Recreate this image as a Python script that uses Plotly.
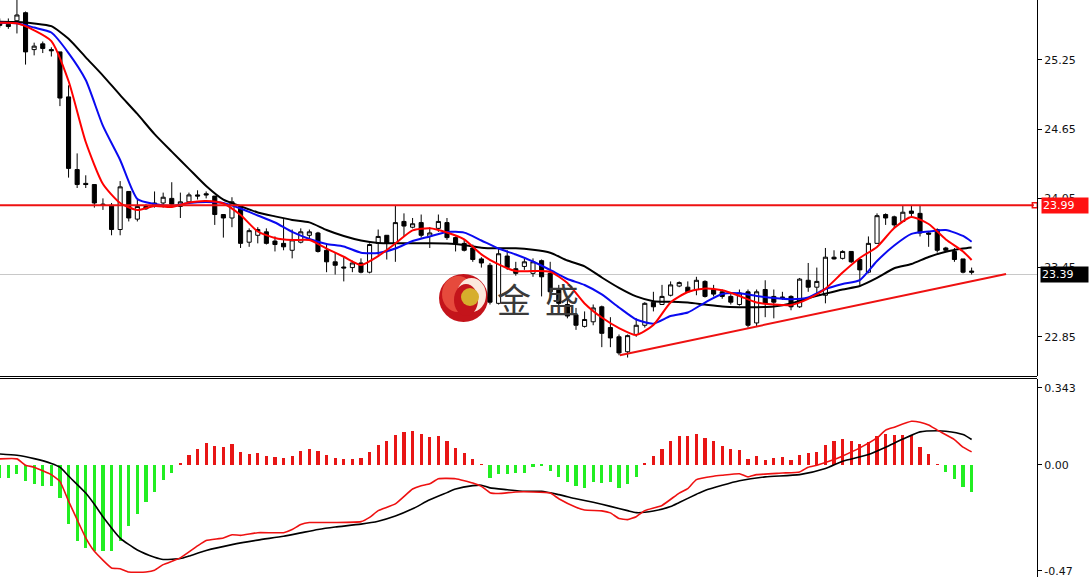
import plotly.graph_objects as go

# ---------------- price data (one candle per bar index) ----------------
idx = list(range(114))
opens = [25.58,25.56,25.59,25.66,25.34,25.39,25.34,25.32,24.93,24.30,
         24.18,24.17,24.00,23.99,23.78,24.11,23.87,23.98,24.01,24.01,
         24.05,23.98,24.02,24.08,24.09,24.07,23.91,23.88,23.98,23.67,
         23.73,23.76,23.68,23.66,23.60,23.67,23.73,23.75,23.60,23.50,
         23.455,23.45,23.49,23.41,23.66,23.73,23.66,23.85,23.80,23.84,
         23.72,23.79,23.84,23.71,23.66,23.62,23.525,23.47,23.14,23.55,
         23.44,23.46,23.40,23.51,23.40,23.26,23.13,23.04,22.94,22.98,
         23.11,22.93,22.85,22.72,22.87,22.95,23.15,23.13,23.21,23.29,
         23.28,23.26,23.33,23.26,23.24,23.20,23.13,23.24,22.97,23.26,
         23.20,23.195,23.20,23.11,23.34,23.28,23.21,23.54,23.53,23.59,
         23.52,23.41,23.66,23.91,23.89,23.85,23.94,23.92,23.75,23.78,
         23.62,23.59,23.525,23.42]
closes = [25.55,25.54,25.64,25.32,25.37,25.35,25.33,24.92,24.31,24.17,
          24.17,24.01,23.99,23.78,24.15,23.88,23.98,23.96,24.00,24.06,
          24.00,24.02,24.08,24.07,24.08,23.91,23.88,24.02,23.66,23.77,
          23.78,23.66,23.65,23.63,23.69,23.76,23.76,23.59,23.50,23.47,
          23.447,23.49,23.41,23.65,23.72,23.66,23.84,23.81,23.83,23.73,
          23.75,23.85,23.71,23.66,23.60,23.52,23.49,23.15,23.57,23.45,
          23.40,23.50,23.50,23.37,23.24,23.14,23.03,22.95,23.00,23.10,
          22.88,22.84,22.71,22.86,22.95,23.14,23.11,23.20,23.30,23.32,
          23.24,23.34,23.20,23.22,23.20,23.15,23.23,22.95,23.24,23.14,
          23.15,23.19,23.11,23.35,23.28,23.33,23.54,23.525,23.59,23.50,
          23.43,23.66,23.90,23.88,23.82,23.93,23.92,23.75,23.74,23.60,
          23.60,23.52,23.41,23.41]
highs = [25.61,25.61,25.77,25.67,25.40,25.41,25.36,25.32,25.03,24.44,
         24.25,24.17,24.05,24.01,24.20,24.11,24.04,24.00,24.11,24.10,
         24.19,24.10,24.10,24.12,24.11,24.07,23.91,24.06,23.99,23.79,
         23.80,23.79,23.72,23.87,23.78,23.79,23.78,23.76,23.66,23.58,
         23.54,23.51,23.53,23.66,23.78,23.73,23.99,23.92,23.88,23.91,
         23.80,23.91,23.88,23.72,23.69,23.65,23.54,23.49,23.62,23.60,
         23.50,23.53,23.53,23.52,23.50,23.30,23.17,23.10,23.07,23.13,
         23.12,23.02,22.87,22.87,23.01,23.15,23.24,23.30,23.33,23.33,
         23.33,23.37,23.34,23.30,23.26,23.22,23.26,23.26,23.26,23.34,
         23.26,23.24,23.21,23.36,23.49,23.45,23.62,23.60,23.60,23.59,
         23.53,23.72,23.92,23.92,23.90,23.99,23.99,23.99,23.76,23.79,
         23.63,23.62,23.525,23.45]
lows = [25.53,25.52,25.48,25.21,25.29,25.31,25.28,24.85,24.23,24.14,
        24.14,23.97,23.95,23.73,23.73,23.85,23.85,23.95,23.97,23.97,
        23.97,23.88,24.01,24.04,24.05,23.82,23.71,23.80,23.62,23.63,
        23.66,23.65,23.59,23.60,23.53,23.66,23.69,23.58,23.41,23.39,
        23.33,23.41,23.40,23.40,23.56,23.52,23.50,23.72,23.79,23.71,
        23.62,23.76,23.69,23.59,23.59,23.50,23.45,23.13,23.13,23.43,
        23.38,23.43,23.37,23.20,23.20,23.08,23.01,22.91,22.93,22.95,
        22.76,22.76,22.69,22.67,22.85,22.93,23.07,23.13,23.20,23.28,
        23.23,23.21,23.19,23.20,23.18,23.13,23.12,22.93,22.94,23.02,
        23.01,23.17,23.08,23.10,23.24,23.21,23.14,23.52,23.52,23.49,
        23.30,23.40,23.66,23.82,23.79,23.85,23.89,23.72,23.63,23.58,
        23.59,23.50,23.40,23.39]

# moving averages read at every second bar
ma_idx = list(range(0, 113, 2)) + [113]
ma_red = [25.573,25.568,25.507,25.414,25.068,24.539,24.175,24.010,23.949,23.984,
          23.975,24.014,24.027,24.006,23.906,23.763,23.707,23.689,23.689,23.615,
          23.544,23.473,23.550,23.659,23.772,23.791,23.754,23.694,23.564,23.477,
          23.420,23.420,23.414,23.316,23.139,23.017,22.926,22.866,22.952,23.147,
          23.238,23.269,23.253,23.204,23.147,23.130,23.126,23.178,23.267,23.407,
          23.533,23.629,23.793,23.889,23.828,23.694,23.590,23.516]
ma_blue = [25.573,25.568,25.531,25.488,25.310,25.076,24.678,24.383,24.045,24.001,
           23.984,24.010,24.019,24.010,23.962,23.902,23.841,23.759,23.698,23.655,
           23.633,23.579,23.577,23.615,23.681,23.720,23.759,23.753,23.685,23.615,
           23.563,23.503,23.429,23.351,23.299,23.217,23.104,23.000,22.964,23.030,
           23.061,23.147,23.221,23.227,23.204,23.186,23.176,23.191,23.264,23.308,
           23.342,23.507,23.641,23.742,23.763,23.776,23.724,23.674]
ma_black = [25.582,25.579,25.567,25.543,25.434,25.273,25.115,24.945,24.782,24.607,
            24.455,24.306,24.157,24.039,23.982,23.928,23.894,23.863,23.842,23.776,
            23.724,23.685,23.663,23.661,23.661,23.661,23.659,23.646,23.623,23.617,
            23.617,23.604,23.579,23.511,23.461,23.364,23.274,23.200,23.159,23.154,
            23.147,23.129,23.112,23.106,23.106,23.113,23.139,23.186,23.224,23.260,
            23.290,23.360,23.444,23.481,23.542,23.588,23.615,23.624]

resistance = 23.99
last_price = 23.39
trend_idx = [72.1, 117.0]
trend_val = [22.69, 23.394]

price_ticks = [25.25, 24.65, 24.05, 23.45, 22.85]

# ---------------- MACD data ----------------
hist = [-0.059,-0.059,-0.041,-0.072,-0.083,-0.092,-0.092,-0.147,-0.264,-0.339,
        -0.370,-0.381,-0.381,-0.381,-0.339,-0.270,-0.218,-0.166,-0.119,-0.065,
        -0.034,0.006,0.044,0.071,0.096,0.086,0.079,0.092,0.059,0.050,
        0.053,0.040,0.036,0.031,0.040,0.064,0.071,0.064,0.044,0.031,
        0.027,0.027,0.029,0.059,0.090,0.105,0.133,0.145,0.151,0.138,
        0.123,0.128,0.107,0.077,0.053,0.027,0.003,-0.059,-0.039,-0.039,
        -0.034,-0.034,-0.008,-0.004,-0.028,-0.052,-0.077,-0.095,-0.102,-0.077,
        -0.081,-0.077,-0.102,-0.083,-0.052,0.006,0.040,0.071,0.105,0.128,
        0.128,0.138,0.120,0.105,0.086,0.071,0.067,0.027,0.040,0.022,
        0.031,0.036,0.022,0.044,0.053,0.059,0.090,0.105,0.114,0.105,
        0.092,0.101,0.128,0.138,0.133,0.133,0.133,0.081,0.049,0.004,
        -0.032,-0.064,-0.096,-0.121]
dif_idx = [0,2,3,4,6,7,8,9,10,11,13,14,15,17,18,19,21,23,24,26,27,28,30,33,34,35,36,39,42,43,
           44,46,48,49,50,51,53,55,56,57,58,60,62,64,65,67,68,70,71,72,73,74,75,77,79,80,81,83,84,86,
           87,88,91,93,94,95,97,98,100,102,103,104,106,107,108,109,111,112,113]
dif_val = [0.027,0.027,-0.001,-0.010,-0.043,-0.073,-0.161,-0.243,-0.324,-0.384,
           -0.458,-0.461,-0.476,-0.476,-0.468,-0.443,-0.413,-0.360,-0.336,-0.325,
           -0.310,-0.313,-0.301,-0.301,-0.287,-0.265,-0.256,-0.256,-0.252,-0.233,
           -0.203,-0.173,-0.107,-0.092,-0.084,-0.061,-0.061,-0.080,-0.095,-0.123,
           -0.127,-0.120,-0.120,-0.125,-0.150,-0.188,-0.200,-0.204,-0.213,-0.238,
           -0.243,-0.230,-0.203,-0.180,-0.125,-0.105,-0.065,-0.050,-0.046,-0.039,
           -0.053,-0.043,-0.036,-0.031,-0.010,-0.001,0.024,0.040,0.076,0.120,
           0.155,0.168,0.194,0.190,0.178,0.155,0.113,0.079,0.058]
dea_idx = [0,2,4,6,7,8,10,11,12,14,16,18,19,21,22,24,27,30,33,35,
           37,39,42,44,46,48,50,52,53,55,56,57,59,61,63,65,67,69,71,73,
           74,76,78,79,81,82,84,86,89,93,96,98,101,103,105,107,109,110,112,113]
dea_val = [0.049,0.043,0.028,0.007,-0.010,-0.049,-0.125,-0.175,-0.230,-0.325,
           -0.378,-0.410,-0.420,-0.416,-0.405,-0.380,-0.354,-0.334,-0.317,-0.302,
           -0.287,-0.276,-0.263,-0.250,-0.227,-0.195,-0.155,-0.123,-0.107,-0.092,
           -0.090,-0.102,-0.110,-0.117,-0.117,-0.132,-0.150,-0.166,-0.184,-0.203,
           -0.212,-0.205,-0.185,-0.167,-0.130,-0.113,-0.090,-0.070,-0.053,-0.043,
           -0.016,0.016,0.046,0.079,0.115,0.147,0.152,0.150,0.135,0.113]
macd_ticks = [0.343, 0.0, -0.47]
macd_ticktext = ["0.343", "0.00", "-0.47"]

# ---------------- figure ----------------
W, H = 1089, 577
PLOT_W = 1037
TOP_BOTTOM_PX = 376
BOT_TOP_PX = 379
XR = [0.03, 120.6]
FONT = "DejaVu Sans"

fig = go.Figure()

fig.add_trace(go.Candlestick(
    x=idx, open=opens, high=highs, low=lows, close=closes,
    increasing=dict(line=dict(color="black", width=1), fillcolor="white"),
    decreasing=dict(line=dict(color="black", width=1), fillcolor="black"),
    whiskerwidth=0, xaxis="x", yaxis="y", hoverinfo="skip", showlegend=False))

for vals, col in [(ma_black, "#000000"), (ma_blue, "#0a0af0"), (ma_red, "#ff0000")]:
    fig.add_trace(go.Scatter(x=ma_idx, y=vals, mode="lines",
                             line=dict(color=col, width=2, shape="spline", smoothing=0.6),
                             xaxis="x", yaxis="y", showlegend=False, hoverinfo="skip"))

fig.add_trace(go.Scatter(x=trend_idx, y=trend_val, mode="lines",
                         line=dict(color="#ee1111", width=2),
                         xaxis="x", yaxis="y", showlegend=False, hoverinfo="skip"))

fig.add_trace(go.Scatter(x=[XR[1] - 0.25], y=[resistance], mode="markers",
                         marker=dict(symbol="square-open", size=5, color="#ee1111",
                                     line=dict(width=1.5, color="#ee1111")),
                         xaxis="x", yaxis="y", showlegend=False, hoverinfo="skip",
                         cliponaxis=False))

# MACD panel
fig.add_trace(go.Bar(x=idx, y=hist, width=0.36,
                     marker=dict(color=["#e81515" if v >= 0 else "#22ee22" for v in hist],
                                 line=dict(width=0)),
                     xaxis="x2", yaxis="y2", showlegend=False, hoverinfo="skip"))
fig.add_trace(go.Scatter(x=dea_idx, y=dea_val, mode="lines",
                         line=dict(color="#000000", width=1.6, shape="spline", smoothing=0.6),
                         xaxis="x2", yaxis="y2", showlegend=False, hoverinfo="skip"))
fig.add_trace(go.Scatter(x=dif_idx, y=dif_val, mode="lines",
                         line=dict(color="#ee1111", width=1.6, shape="spline", smoothing=0.4),
                         xaxis="x2", yaxis="y2", showlegend=False, hoverinfo="skip"))

top_dom = [1 - TOP_BOTTOM_PX / H, 1]
bot_dom = [0, 1 - BOT_TOP_PX / H]
y_top = 25.77
y_bot = 22.51

axis_common = dict(side="right", showgrid=False, zeroline=False, showline=True,
                   linecolor="black", linewidth=1, ticks="outside", ticklen=4,
                   tickcolor="black", tickwidth=1, ticklabeloverflow="allow",
                   tickfont=dict(family=FONT, size=11, color="#111111"))

fig.update_layout(
    width=W, height=H, autosize=False,
    margin=dict(l=0, r=W - PLOT_W, t=0, b=0),
    paper_bgcolor="white", plot_bgcolor="white",
    boxgap=0.32, bargap=0,
    xaxis=dict(domain=[0, 1], range=XR, anchor="y", visible=False,
               rangeslider=dict(visible=False), fixedrange=True),
    xaxis2=dict(domain=[0, 1], range=XR, anchor="y2", visible=False, fixedrange=True),
    yaxis=dict(domain=top_dom, range=[y_bot, y_top], anchor="x",
               tickvals=price_ticks, ticktext=[f"{v:.2f}" for v in price_ticks],
               **axis_common),
    yaxis2=dict(domain=bot_dom, range=[-0.498, 0.382], anchor="x2",
                tickvals=macd_ticks, ticktext=macd_ticktext, **axis_common),
)

shapes = []
shapes.append(dict(type="line", xref="paper", yref="y", x0=0, x1=0.997,
                   y0=resistance, y1=resistance, line=dict(color="#ee1111", width=2)))
shapes.append(dict(type="line", xref="paper", yref="y", x0=0, x1=1,
                   y0=last_price, y1=last_price, line=dict(color="#c8c8c8", width=1),
                   layer="below"))
for py in (376.5, 378.5):
    shapes.append(dict(type="line", xref="paper", yref="paper", x0=0, x1=1,
                       y0=1 - py / H, y1=1 - py / H, line=dict(color="black", width=1)))

def px_rect(x0, y0, x1, y1):
    return dict(x0=x0 / PLOT_W, x1=x1 / PLOT_W, y0=1 - y1 / H, y1=1 - y0 / H)

shapes.append(dict(type="circle", xref="paper", yref="paper", layer="below",
                   fillcolor="#c4141b", line=dict(width=0), **px_rect(439, 274, 488, 322)))
shapes.append(dict(type="circle", xref="paper", yref="paper", layer="below",
                   fillcolor="#e64a3c", line=dict(width=0), **px_rect(442, 276, 474, 312)))
shapes.append(dict(type="circle", xref="paper", yref="paper", layer="below",
                   fillcolor="#fbe9dc", line=dict(width=0), **px_rect(457, 278, 486, 312)))
shapes.append(dict(type="circle", xref="paper", yref="paper", layer="below",
                   fillcolor="#c4141b", line=dict(width=0), **px_rect(454, 284, 478, 316)))
shapes.append(dict(type="circle", xref="paper", yref="paper", layer="below",
                   fillcolor="#d6ae2c", line=dict(width=0), **px_rect(461, 288, 479, 306)))
fig.update_layout(shapes=shapes)

annotations = [
    dict(xref="paper", yref="paper", x=514 / PLOT_W, y=1 - 298 / H, text="金",
         showarrow=False, font=dict(family="Noto Sans CJK SC", size=34, color="#3a3a3a")),
    dict(xref="paper", yref="paper", x=562 / PLOT_W, y=1 - 298 / H, text="盛",
         showarrow=False, font=dict(family="Noto Sans CJK SC", size=34, color="#3a3a3a")),
    dict(xref="paper", yref="y", x=1, y=resistance, xanchor="left", xshift=4,
         text=f"{resistance:.2f}", showarrow=False, bgcolor="#ff1010", width=44,
         align="left", borderpad=1,
         font=dict(family=FONT, size=11, color="white")),
    dict(xref="paper", yref="y", x=1, y=last_price, xanchor="left", xshift=3,
         text=f"{last_price:.2f}", showarrow=False, bgcolor="#000000", width=45,
         align="left", borderpad=1,
         font=dict(family=FONT, size=11, color="white")),
]
fig.update_layout(annotations=annotations)

fig.write_html("out.html", config={"displayModeBar": False},
               post_script="document.body.style.margin='0';document.body.style.padding='0';")
